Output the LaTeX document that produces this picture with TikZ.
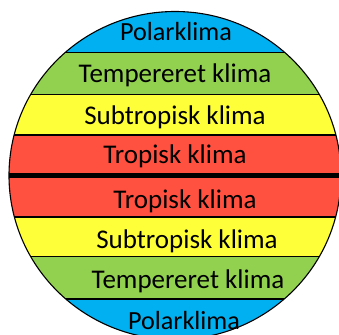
\documentclass[tikz,border=0pt]{standalone}
\usepackage{fontspec}
\setmainfont{Carlito}
\definecolor{polar}{HTML}{00B0F0}
\definecolor{temp}{HTML}{92D050}
\definecolor{subt}{HTML}{FFFF39}
\definecolor{trop}{HTML}{FF5040}
\tikzset{
  sep/.style={draw=black,line width=1.2pt},
  lbl/.style={font=\fontsize{27}{30}\selectfont,text=black,inner sep=0pt,anchor=base},
  lblp/.style={lbl,font=\fontsize{26.2}{30}\selectfont}
}
\begin{document}
\begin{tikzpicture}[x=1pt,y=-1pt]
\useasboundingbox (0,0) rectangle (339,334);
\begin{scope}
\clip (0,0) rectangle (339,334);
\begin{scope}
\clip (175,175.5) ellipse [x radius=166,y radius=164];
\fill[polar] (0,0) rectangle (339,52.5);
\fill[temp] (0,52.5) rectangle (339,94.5);
\fill[subt] (0,94.5) rectangle (339,135);
\fill[trop] (0,135) rectangle (339,217);
\fill[subt] (0,217) rectangle (339,256.5);
\fill[temp] (0,256.5) rectangle (339,299);
\fill[polar] (0,299) rectangle (339,340);
\draw[sep] (0,52.5) -- (339,52.5);
\draw[sep] (0,94.5) -- (339,94.5);
\draw[sep] (0,135) -- (339,135);
\draw[draw=black,line width=5pt] (0,175.5) -- (339,175.5);
\draw[sep] (0,217) -- (339,217);
\draw[sep] (0,256.5) -- (339,256.5);
\draw[sep] (0,299) -- (339,299);
\end{scope}
\draw[black,line width=1.1pt] (175,175.5) ellipse [x radius=166,y radius=164];
\end{scope}
\node[lblp] (p1) at (176,41) {Polarklima};
\node[lbl] (t1) at (175,82) {Tempereret klima};
\node[lbl] (s1) at (175,124) {Subtropisk klima};
\node[lbl] (r1) at (175,163.5) {Tropisk klima};
\node[lbl] (r2) at (185,208) {Tropisk klima};
\node[lbl] (s2) at (187,248) {Subtropisk klima};
\node[lbl] (t2) at (188,288) {Tempereret klima};
\node[lblp] (p2) at (184,329) {Polarklima};
\end{tikzpicture}
\end{document}
